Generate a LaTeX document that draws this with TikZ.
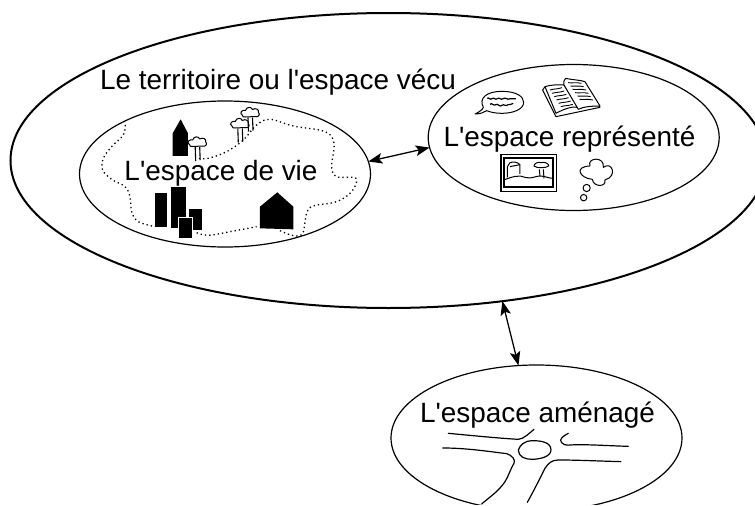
\documentclass[tikz,border=0pt]{standalone}
\usepackage{fontspec}
\newfontfamily\labfont{Liberation Sans}
\usetikzlibrary{shapes.geometric,arrows.meta}
\tikzset{x=1pt,y=-1pt,
 zone/.style={draw,ellipse,inner sep=0pt,outer sep=0pt,line width=1.2pt,minimum width=291pt,minimum height=146pt},
 big/.style={draw,ellipse,inner sep=0pt,outer sep=0pt,line width=2pt},
 lab/.style={font=\labfont\fontsize{27.9}{30}\selectfont,inner sep=0pt,anchor=base},
 link/.style={line width=1.3pt,{Stealth[length=14pt,width=10.5pt,inset=3pt]}-{Stealth[length=14pt,width=10.5pt,inset=3pt]}},
 ink/.style={line width=1pt,line join=round},
 road/.style={line width=1.2pt,line cap=round},
 path dots/.style={line width=1.3pt,dash pattern=on 1.3pt off 3pt},
}
\newcommand{\treeicon}[2]{%
 \begin{scope}[shift={(#1,#2)}]
 \draw[ink,line width=1.1pt] (-2.5,4) -- (-2,18) (2,4) -- (2.5,17);
 \draw[ink,fill=white] (-8,2) .. controls (-12,-1) and (-8,-4) .. (-5,-3) .. controls (-4,-7) and (1,-7) .. (2,-4) .. controls (5,-6) and (9,-4) .. (8,-1) .. controls (10,1) and (8,4) .. (5,3) -- (-5,3.5) .. controls (-7,4) and (-8,3) .. (-8,2) -- cycle;
 \end{scope}}
\begin{document}
\begin{tikzpicture}
\useasboundingbox (0,0) rectangle (755,506);
\clip (0,0) rectangle (755,506);
\node[big,minimum width=756pt,minimum height=295pt] (terr) at (388.5,160.5) {};
\node[zone] (vie) at (225,174) {};
\node[zone] (rep) at (573.7,137.5) {};
\begin{scope}
\clip (380,350) rectangle (700,504.5);
\node[zone] (ame) at (536.5,438) {};
\end{scope}
\draw[link] (vie.5.4) -- (rep.184);
\draw[link] (terr.-51.7) -- (ame.104);
\node[lab] (t1) at (278,89) {Le territoire ou l'espace vécu};
\node[lab] (t2) at (221,180) {L'espace de vie};
\node[lab] (t3) at (569.5,146) {L'espace représenté};
\node[lab] (t4) at (537.5,422) {L'espace aménagé};
% life space
\begin{scope}[shift={(80,90)},x=0.3333pt,y=-0.3333pt]
\draw[path dots] plot[smooth,tension=0.6] coordinates {(136,105) (130,135) (95,170) (70,205) (68,240) (95,268) (135,290) (150,320) (155,365) (175,395) (225,410)};
\draw[path dots] plot[smooth,tension=0.6] coordinates {(350,428) (385,436) (450,425) (530,410)};
\draw[path dots] plot[smooth,tension=0.6] coordinates {(600,422) (640,437) (668,430) (680,370) (700,348) (770,335) (815,305) (828,265) (770,260) (755,230) (762,160) (735,125) (640,108) (570,88) (530,105) (490,150) (440,185) (385,205) (355,205)};
\fill (278,198) -- (278,130) -- (302,88) -- (324,130) -- (324,198) -- cycle;
\fill (226,310) rectangle (260,412);
\fill (272,292) rectangle (318,414);
\fill (326,358) rectangle (366,420);
\draw[fill=black,draw=white,line width=1pt] (295,382) rectangle (339,447);
\fill (540,350) -- (592,307) -- (640,350) -- (640,418) -- (540,415) -- cycle;
\end{scope}
\treeicon{197.7}{143}
\treeicon{240.3}{124.5}
\treeicon{250.5}{113.5}
% represented space
\begin{scope}[shift={(430,70)},x=0.3333pt,y=-0.3333pt]
\draw[ink] (135,132) .. controls (150,125) and (158,118) .. (160,112) .. controls (145,85) and (170,64) .. (215,64) .. controls (260,64) and (282,80) .. (281,98) .. controls (280,118) and (250,130) .. (215,130) .. controls (195,130) and (180,126) .. (170,122) .. controls (160,128) and (150,132) .. (135,132) -- cycle;
\draw[ink,line width=1.2pt] (172,85) .. controls (176,80) and (180,92) .. (186,86) .. controls (192,80) and (196,92) .. (202,86) .. controls (208,80) and (212,92) .. (220,86) .. controls (228,80) and (232,92) .. (240,86) .. controls (246,82) and (250,90) .. (258,86);
\draw[ink,line width=1.2pt] (180,103) .. controls (186,96) and (190,110) .. (198,104) .. controls (204,98) and (208,114) .. (216,106) .. controls (222,100) and (228,112) .. (234,104) .. controls (238,100) and (244,108) .. (250,100);
% book
\draw[ink,fill=white] (338,60) -- (378,140) -- (510,112) -- (495,85) -- (345,50) -- cycle;
\draw[ink,fill=white] (345,50) .. controls (365,43) and (385,45) .. (402,45) -- (445,112) .. controls (425,108) and (400,118) .. (378,130) -- cycle;
\draw[ink,fill=white] (402,45) .. controls (400,35) and (403,28) .. (407,25) .. controls (430,30) and (450,30) .. (465,35) -- (510,108) .. controls (485,108) and (460,110) .. (445,118) -- cycle;
\foreach \i in {0,1,2,3,4,5} {
 \draw[ink,line width=.9pt] ({360+\i*6.5},{60+\i*10}) .. controls ({372+\i*6.5},{56+\i*10}) and ({382+\i*6.5},{58+\i*10}) .. ({396+\i*6.5},{53+\i*10});
 \draw[ink,line width=.9pt] ({414+\i*7},{38+\i*10}) .. controls ({428+\i*7},{40+\i*10}) and ({438+\i*7},{36+\i*10}) .. ({454+\i*7},{40+\i*10});
}
% picture
\draw[line width=1.1pt] (213,253) rectangle (380,365);
\draw[line width=2pt] (222,265) rectangle (370,352);
\draw[ink] (232,322) -- (232,290) -- (240,278) .. controls (250,274) and (262,276) .. (270,284) -- (270,312);
\draw[ink] (240,290) -- (270,284);
\draw[ink] (222,330) .. controls (250,318) and (270,315) .. (285,322) .. controls (305,328) and (315,318) .. (330,318) .. controls (345,318) and (355,325) .. (370,325);
\draw[ink] (328,298) -- (330,318) (340,298) -- (342,325);
\draw[ink,fill=white] (312,288) .. controls (312,280) and (325,275) .. (333,278) .. controls (345,274) and (358,282) .. (356,288) .. controls (350,294) and (320,296) .. (312,288) -- cycle;
% thought
\draw[ink] (480,288) .. controls (470,262) and (525,258) .. (520,292) .. controls (545,272) and (565,318) .. (525,330) .. controls (530,352) and (490,352) .. (487,328) .. controls (450,325) and (430,290) .. (480,288) -- cycle;
\draw[ink] (470,354) circle (3.6pt);
\draw[ink] (461,383) circle (3.2pt);
\end{scope}
% roads
\begin{scope}[shift={(390,300)},x=0.3333pt,y=-0.3333pt]
\draw[road] (175,400) .. controls (260,408) and (330,415) .. (385,418) .. controls (400,418) and (420,398) .. (432,388);
\draw[road] (158,444) .. controls (230,444) and (300,455) .. (350,461) .. controls (365,465) and (378,480) .. (372,490) .. controls (360,510) and (355,530) .. (345,545) .. controls (325,575) and (300,590) .. (275,612);
\draw[road] (385,450) .. controls (390,435) and (405,422) .. (425,422) .. controls (450,422) and (483,425) .. (483,450) .. controls (483,470) and (450,478) .. (425,478) .. controls (405,478) and (385,470) .. (385,450) -- cycle;
\draw[road] (535,400) .. controls (520,408) and (505,418) .. (515,428) .. controls (525,440) and (540,434) .. (560,434) .. controls (610,434) and (670,438) .. (715,439);
\draw[road] (693,485) .. controls (620,483) and (560,480) .. (505,480) .. controls (485,480) and (475,490) .. (465,505) .. controls (450,535) and (430,575) .. (412,607);
\end{scope}
\end{tikzpicture}
\end{document}
